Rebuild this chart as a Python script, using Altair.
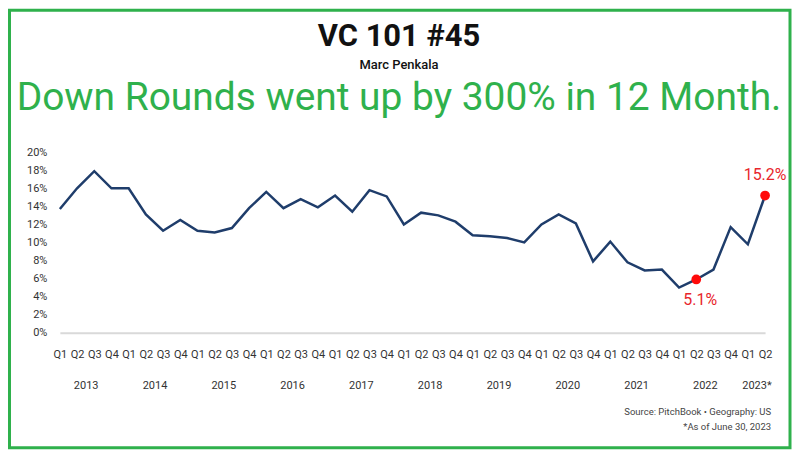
import json
import altair as alt
import pandas as pd

# ---------------- data ----------------
years = ["2013", "2014", "2015", "2016", "2017", "2018", "2019", "2020", "2021", "2022", "2023*"]
quarters_per_year = [4, 4, 4, 4, 4, 4, 4, 4, 4, 4, 2]
quarter_names = ["Q1", "Q2", "Q3", "Q4"]
down_round_pct = [13.7, 16.0, 17.9, 16.0, 16.0, 13.1, 11.3, 12.5, 11.3, 11.1, 11.6, 13.8,
                  15.6, 13.8, 14.8, 13.9, 15.2, 13.4, 15.8, 15.1, 12.0, 13.3, 13.0, 12.3,
                  10.8, 10.7, 10.5, 10.0, 12.0, 13.1, 12.1, 7.9, 10.1, 7.8, 6.9, 7.0,
                  5.0, 5.9, 7.0, 11.7, 9.8, 15.2]
highlight_idx = [37, 41]
highlight_text = ["5.1%", "15.2%"]

title_text = "VC 101 #45"
author_text = "Marc Penkala"
headline_text = "Down Rounds went up by 300% in 12 Month."
source_text = "Source: PitchBook  \u2022  Geography: US"
note_text = "*As of June 30, 2023"

# ---------------- derived tables ----------------
period_labels = []
year_mid = []
start = 0
for y, n in zip(years, quarters_per_year):
    period_labels += quarter_names[:n]
    year_mid.append(start + (n - 1) / 2)
    start += n

df = pd.DataFrame({
    "i": list(range(len(down_round_pct))),
    "q": period_labels,
    "v": [v / 100 for v in down_round_pct],
})
hl = pd.DataFrame({
    "i": highlight_idx,
    "v": [down_round_pct[k] / 100 for k in highlight_idx],
    "t": highlight_text,
})

W, H = 707, 181
GREEN = "#2fb14c"
FONT = "Roboto"

label_expr = (
    f"datum.value % 1 == 0 ? {json.dumps(period_labels)}[datum.value] : "
    f"['', {json.dumps(years)}[indexof({json.dumps(year_mid)}, datum.value)]]"
)

x = alt.X("i:Q",
          scale=alt.Scale(domain=[0, len(down_round_pct) - 1], nice=False, zero=False),
          axis=alt.Axis(values=list(range(len(down_round_pct))) + year_mid,
                        labelExpr=label_expr, title=None, ticks=False, grid=False,
                        domainColor="#d9d9d9", domainWidth=2,
                        labelOverlap=False, labelFlush=False, labelBound=False,
                        labelFont=FONT, labelFontSize=11, labelColor="#333333",
                        labelBaseline="top", labelLineHeight=31, labelPadding=16))
y = alt.Y("v:Q",
          scale=alt.Scale(domain=[0, 0.2], nice=False),
          axis=alt.Axis(values=[k / 100 for k in range(0, 21, 2)], format=".0%",
                        title=None, ticks=False, grid=False, domain=False,
                        labelOverlap=False, labelFlush=False,
                        labelFont=FONT, labelFontSize=11, labelColor="#333333",
                        labelPadding=13))

line = alt.Chart(df).mark_line(color="#1f3d6b", strokeWidth=2.5).encode(x=x, y=y)

dots = alt.Chart(hl).mark_circle(size=95, color="#ff0a0a", opacity=1).encode(x=x, y=y)
lab_hi = alt.Chart(hl).transform_filter(alt.datum.i == highlight_idx[1]).mark_text(
    color="#e8262c", fontSize=16, font=FONT, dy=-21).encode(x=x, y=y, text="t:N")
lab_lo = alt.Chart(hl).transform_filter(alt.datum.i == highlight_idx[0]).mark_text(
    color="#e8262c", fontSize=16, font=FONT, dy=21, dx=4).encode(x=x, y=y, text="t:N")


def text_layer(txt, xv, yv, **kw):
    return alt.Chart(pd.DataFrame({"t": [txt]})).mark_text(baseline="alphabetic", font=FONT, **kw).encode(
        text="t:N", x=alt.value(xv), y=alt.value(yv))


title = text_layer(title_text, 340, -106, fontSize=31, fontWeight="bold", color="#111111", align="center")
author = text_layer(author_text, 340, -83.5, fontSize=13, fontWeight=500, color="#111111", align="center")
headline = text_layer(headline_text, 340, -42, fontSize=39, color=GREEN, align="center")
src = text_layer(source_text, 713, 263.5, fontSize=9.5, color="#444444", align="right")
note = text_layer(note_text, 713, 279, fontSize=9.5, color="#444444", align="right")

border = alt.Chart(pd.DataFrame({"t": [0]})).mark_rect(
    fill=None, fillOpacity=0, stroke=GREEN, strokeWidth=3).encode(
    x=alt.value(-50.5), x2=alt.value(732), y=alt.value(-142.2), y2=alt.value(296.3))

chart = alt.layer(line, dots, lab_hi, lab_lo, border, title, author, headline, src, note).properties(
    width=W, height=H, padding=0, background="white"
).configure_view(stroke=None).configure_axis(labelOverlap=False)

chart.save("out.html", embed_options={"renderer": "svg", "actions": False})
